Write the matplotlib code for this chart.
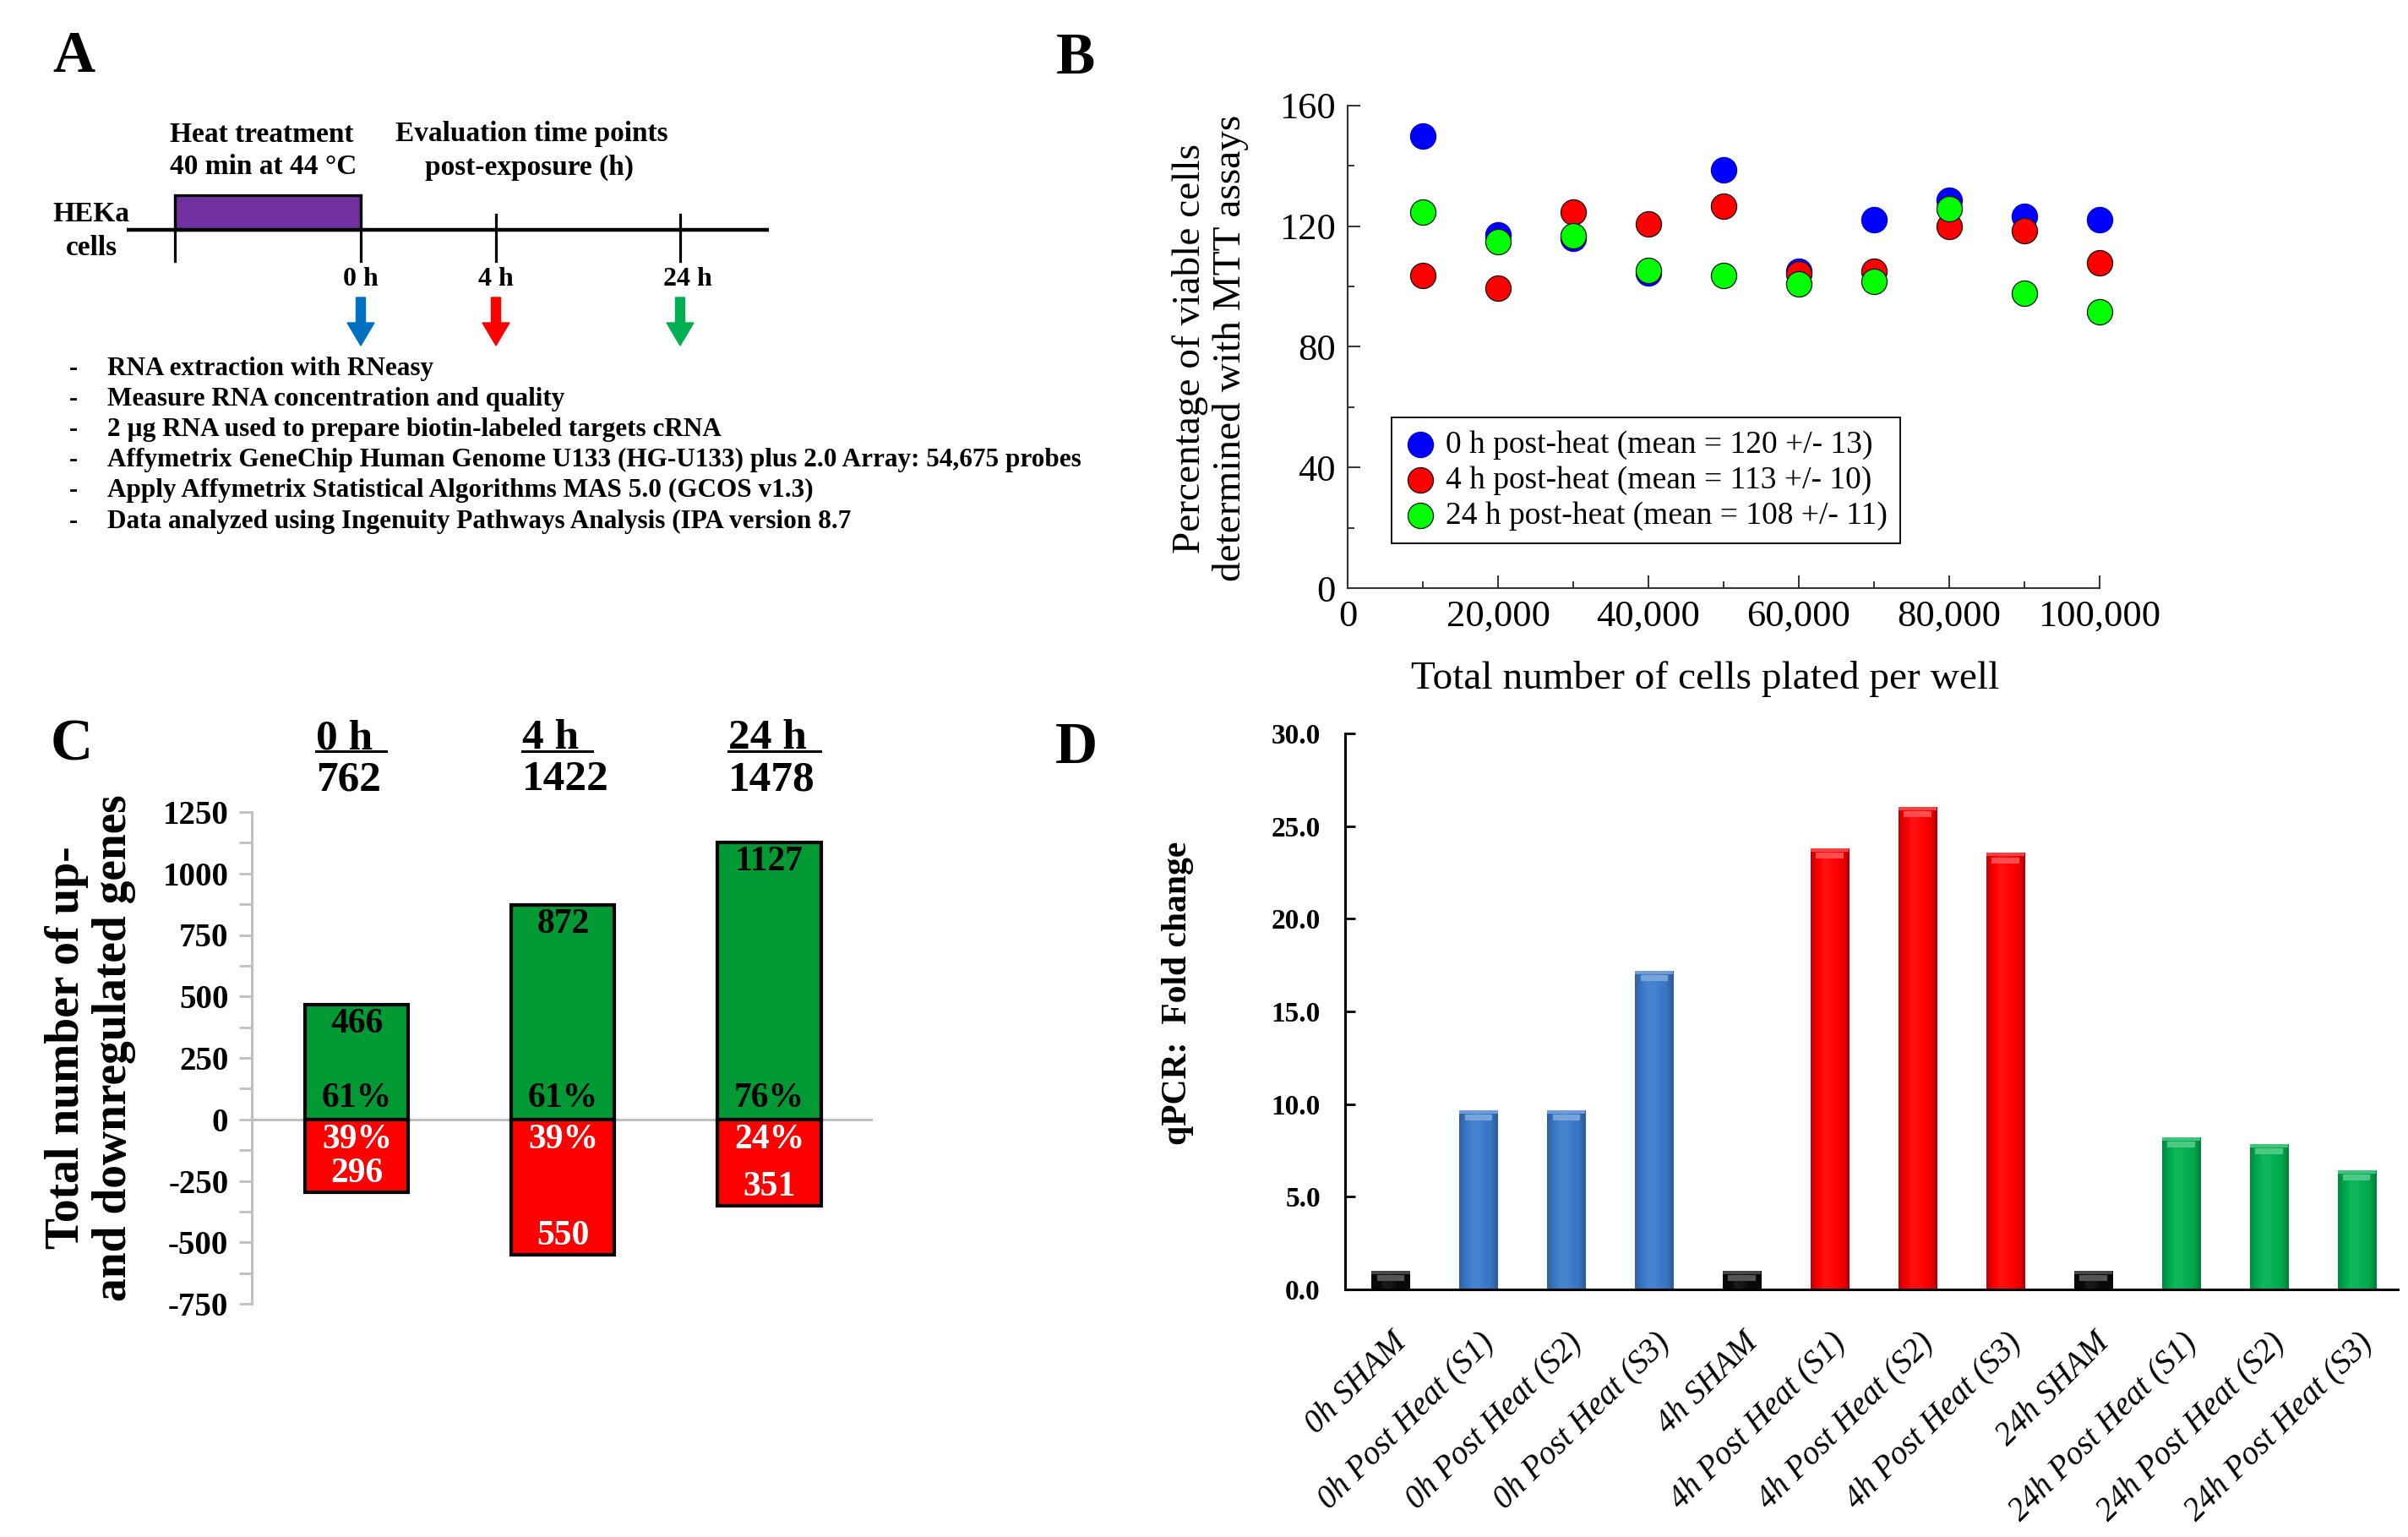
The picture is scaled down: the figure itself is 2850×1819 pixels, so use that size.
import numpy as np
import matplotlib
matplotlib.use('Agg')
import matplotlib.pyplot as plt
import matplotlib.colors as mcolors
from matplotlib.patches import Rectangle
from matplotlib.lines import Line2D
from matplotlib.transforms import IdentityTransform

plt.rcParams['font.family'] = ['Liberation Serif', 'DejaVu Serif']
plt.rcParams['axes.unicode_minus'] = False

# ---------------- data ----------------
# Panel A (workflow)
a_timepoints = ['0 h', '4 h', '24 h']
a_arrow_colors = ['#0070C0', '#FF0000', '#00B050']
a_steps = ['RNA extraction with RNeasy',
           'Measure RNA concentration and quality',
           '2 \u00b5g RNA used to prepare biotin-labeled targets cRNA',
           'Affymetrix GeneChip Human Genome U133 (HG-U133) plus 2.0 Array: 54,675 probes',
           'Apply Affymetrix Statistical Algorithms MAS 5.0 (GCOS v1.3)',
           'Data analyzed using Ingenuity Pathways Analysis (IPA version 8.7']

# Panel B (MTT viability)
cells_plated = [10000, 20000, 30000, 40000, 50000, 60000, 70000, 80000, 90000, 100000]
viab_0h = [149.9, 117.2, 116.0, 104.5, 138.8, 105.2, 122.3, 128.7, 123.2, 122.3]
viab_4h = [103.7, 99.4, 124.8, 120.8, 126.7, 104.1, 105.0, 120.0, 118.5, 107.9]
viab_24h = [124.6, 114.8, 116.9, 105.3, 103.8, 100.8, 101.7, 125.8, 97.7, 91.6]
b_labels = ['0 h post-heat (mean = 120 +/- 13)',
            '4 h post-heat (mean = 113 +/- 10)',
            '24 h post-heat (mean = 108 +/- 11)']
b_colors = ['#0000FF', '#FF0000', '#00FF00']

# Panel C (up / down regulated genes)
c_times = ['0 h', '4 h', '24 h']
c_totals = [762, 1422, 1478]
c_up = [466, 872, 1127]
c_down = [296, 550, 351]
c_up_pct = ['61%', '61%', '76%']
c_down_pct = ['39%', '39%', '24%']

# Panel D (qPCR fold change)
d_labels = ['0h SHAM', '0h Post Heat (S1)', '0h Post Heat (S2)', '0h Post Heat (S3)',
            '4h SHAM', '4h Post Heat (S1)', '4h Post Heat (S2)', '4h Post Heat (S3)',
            '24h SHAM', '24h Post Heat (S1)', '24h Post Heat (S2)', '24h Post Heat (S3)']
d_fold = [1.0, 9.67, 9.67, 17.2, 1.0, 23.8, 26.05, 23.55, 1.0, 8.2, 7.84, 6.42]
d_colors = ['#0A0A0A', '#3C7BCB', '#3C7BCB', '#3C7BCB',
            '#0A0A0A', '#FF0000', '#FF0000', '#FF0000',
            '#0A0A0A', '#00B050', '#00B050', '#00B050']

# ---------------- figure ----------------
W, H = 2850, 1819
fig = plt.figure(figsize=(W / 100, H / 100), dpi=100)

def fr(l, t, r, b):
    return [l / W, 1 - b / H, (r - l) / W, (b - t) / H]

# overlay axes in pixel coordinates (panel A + panel letters)
ax0 = fig.add_axes([0, 0, 1, 1], zorder=0)
ax0.set_xlim(0, W)
ax0.set_ylim(H, 0)
ax0.axis('off')

for letter, (lx, ly) in zip('ABCD', [(87, 68), (1273, 70), (85, 882), (1274, 886)]):
    ax0.text(lx, ly, letter, fontsize=50, fontweight='bold', ha='center', va='center')

# ---- Panel A ----
ax0.add_patch(Rectangle((207, 231), 220, 41, facecolor='#7030A0', edgecolor='black', lw=2.3, zorder=2))
ax0.plot([150, 910], [272, 272], color='black', lw=3.2, zorder=3, solid_capstyle='butt')
ax0.plot([207, 207], [231, 309], color='black', lw=2.3, zorder=3)
tp_x = [427, 587, 805]
tp_lab_x = [427, 587, 814]
ax0.plot([427, 427], [231, 309], color='black', lw=2.3, zorder=3)
for x in tp_x[1:]:
    ax0.plot([x, x], [254, 309], color='black', lw=2.3, zorder=3)
ax0.text(108, 254, 'HEKa', fontsize=24, fontweight='bold', ha='center', va='center')
ax0.text(108, 294, 'cells', fontsize=24, fontweight='bold', ha='center', va='center')
ax0.text(310, 159, 'Heat treatment', fontsize=24, fontweight='bold', ha='center', va='center')
ax0.text(312, 198, '40 min at 44 \u00b0C', fontsize=24, fontweight='bold', ha='center', va='center')
ax0.text(629, 159, 'Evaluation time points', fontsize=24, fontweight='bold', ha='center', va='center')
ax0.text(627, 198, 'post-exposure (h)', fontsize=24, fontweight='bold', ha='center', va='center')
for lab, x, lx, c in zip(a_timepoints, tp_x, tp_lab_x, a_arrow_colors):
    ax0.text(lx, 331, lab, fontsize=23, fontweight='bold', ha='center', va='center')
    ax0.arrow(x, 352, 0, 57, width=11, head_width=32, head_length=27,
              length_includes_head=True, color=c, zorder=3)
for i, s in enumerate(a_steps):
    y = 436 + i * 36.2
    ax0.text(87, y, '-', fontsize=22, fontweight='bold', ha='center', va='center')
    ax0.text(127, y, s, fontsize=22.5, fontweight='bold', ha='left', va='center')

# ---- Panel B ----
axB = fig.add_axes(fr(1595, 125, 2485, 696), zorder=1)
for vals, c, lab in zip([viab_0h, viab_4h, viab_24h], b_colors, b_labels):
    ec = '#0000CC' if c == '#0000FF' else '#111111'
    axB.scatter(cells_plated, vals, s=470, color=c, edgecolors=ec, linewidths=0.9,
                label=lab, zorder=3, clip_on=False)
axB.set_xlim(0, 100000)
axB.set_ylim(0, 160)
for sp in ['top', 'right']:
    axB.spines[sp].set_visible(False)
for sp in ['left', 'bottom']:
    axB.spines[sp].set_color('#333333')
    axB.spines[sp].set_linewidth(1.5)
bx = np.arange(0, 100001, 20000)
axB.set_xticks(bx, [f'{int(v):,}' for v in bx], fontsize=32)
axB.set_xticks(np.arange(10000, 100001, 20000), minor=True)
by = np.arange(0, 161, 40)
axB.set_yticks(by, [str(int(v)) for v in by], fontsize=32)
axB.set_yticks(np.arange(20, 160, 40), minor=True)
axB.tick_params(which='major', direction='in', length=10.8, width=1.4, color='#333333', pad=10)
axB.tick_params(which='minor', direction='in', length=5.5, width=1.4, color='#333333')
axB.text(-0.183, 0.497, 'Percentage of viable cells\ndetermined with MTT assays', transform=axB.transAxes,
         rotation=90, ha='center', va='center', fontsize=34, linespacing=1.15)
axB.text(0.475, -0.189, 'Total number of cells plated per well', transform=axB.transAxes,
         ha='center', va='center', fontsize=34)
leg = axB.legend(loc='lower left', bbox_to_anchor=(0.0584, 0.0928), borderaxespad=0,
                 frameon=True, fancybox=False, edgecolor='black', fontsize=27,
                 handlelength=1.0, handletextpad=0.3, borderpad=0.4, labelspacing=0.2,
                 scatterpoints=1, framealpha=1)
leg.get_frame().set_linewidth(1.3)

# ---- Panel C ----
axC = fig.add_axes(fr(298, 961, 1033, 1543), zorder=1)
cx = np.arange(len(c_times))
axC.axhline(0, color='#BFBFBF', lw=2.2, zorder=1)
axC.bar(cx, c_up, width=0.5, color='#009933', edgecolor='black', lw=3, zorder=3)
axC.bar(cx, [-v for v in c_down], width=0.5, color='#FF0000', edgecolor='black', lw=3, zorder=3)
axC.set_xlim(-0.51, 2.502)
axC.set_ylim(-750, 1250)
for sp in ['top', 'right', 'bottom']:
    axC.spines[sp].set_visible(False)
axC.spines['left'].set_color('#BFBFBF')
axC.spines['left'].set_linewidth(2.2)
cy = np.arange(-750, 1251, 250)
axC.set_yticks(cy, [str(int(v)) for v in cy], fontsize=28, fontweight='bold')
axC.set_yticks(np.arange(-625, 1250, 250), minor=True)
axC.set_xticks([])
axC.tick_params(axis='y', which='both', direction='out', length=10.8, width=2, color='#BFBFBF', pad=9)
for i in cx:
    axC.text(i, c_up[i] - 80, str(c_up[i]), ha='center', va='center', fontsize=30, fontweight='bold', zorder=4)
    axC.text(i, 86, c_up_pct[i], ha='center', va='center', fontsize=30, fontweight='bold', zorder=4)
    axC.text(i, -82, c_down_pct[i], ha='center', va='center', fontsize=30, fontweight='bold', color='white', zorder=4)
    axC.text(i, -c_down[i] + 75, str(c_down[i]), ha='center', va='center', fontsize=30, fontweight='bold', color='white', zorder=4)
axC.text(-0.26, 0.521, 'Total number of up-\nand downregulated genes', transform=axC.transAxes,
         rotation=90, ha='center', va='center', fontsize=40, fontweight='bold', linespacing=1.1)
hdr = []
for i in cx:
    t = axC.text(i - 0.2, 1.149, c_times[i], transform=axC.get_xaxis_transform(),
                 ha='left', va='center', fontsize=37, fontweight='bold')
    axC.text(i - 0.2, 1.065, str(c_totals[i]), transform=axC.get_xaxis_transform(),
             ha='left', va='center', fontsize=37, fontweight='bold')
    hdr.append(t)

# ---- Panel D ----
axD = fig.add_axes(fr(1592, 868, 2838, 1526), zorder=1)
dx = np.arange(len(d_labels))
bars = axD.bar(dx, d_fold, width=0.435, color=d_colors, zorder=2)

def shade(color, f):
    r, g, b = mcolors.to_rgb(color)
    if f >= 1:
        t = f - 1
        return (r + (1 - r) * t, g + (1 - g) * t, b + (1 - b) * t)
    return (r * f, g * f, b * f)

profile = [0.78, 0.95, 1.07, 1.05, 1.0, 0.93, 0.72]
pos = np.linspace(0, 1, 64)
fac = np.interp(pos, np.linspace(0, 1, len(profile)), profile)
for rect, c in zip(bars, d_colors):
    grad = np.array([[shade(c, f) for f in fac]])
    x0, w, h = rect.get_x(), rect.get_width(), rect.get_height()
    im = axD.imshow(grad, extent=(x0, x0 + w, 0, h), aspect='auto', zorder=2.5,
                    interpolation='bilinear')
    im.set_clip_path(rect)
    axD.bar(x0 + w / 2, 0.18, bottom=h - 0.18, width=w, color=shade(c, 1.25), zorder=3)
    axD.bar(x0 + w / 2, 0.32, bottom=h - 0.55, width=w * 0.72, color=shade(c, 1.3), zorder=3)

axD.set_xlim(-0.52, 11.47)
axD.set_ylim(0, 30)
for sp in ['top', 'right']:
    axD.spines[sp].set_visible(False)
axD.spines['left'].set_linewidth(2.2)
axD.spines['bottom'].set_linewidth(2.2)
dy = np.arange(0, 30.1, 5)
axD.set_yticks(dy, [f'{v:.1f}' for v in dy], fontsize=24, fontweight='bold')
axD.set_xticks(dx, d_labels, rotation=45, ha='right', rotation_mode='anchor',
               fontsize=28, fontstyle='italic')
axD.tick_params(axis='y', direction='in', length=8.6, width=2, pad=21)
axD.tick_params(axis='x', length=0, pad=32)
axD.text(-0.159, 0.533, 'qPCR:  Fold change', transform=axD.transAxes, rotation=90,
         ha='center', va='center', fontsize=30, fontweight='bold')

# underline the panel C headers
fig.canvas.draw()
for t in hdr:
    bb = t.get_window_extent()
    yl = bb.y0 + 0.17 * bb.height
    fig.add_artist(Line2D([bb.x0, bb.x1 + 16], [yl, yl], transform=IdentityTransform(),
                          color='black', lw=2.2))

fig.savefig('out.png', dpi=100)
